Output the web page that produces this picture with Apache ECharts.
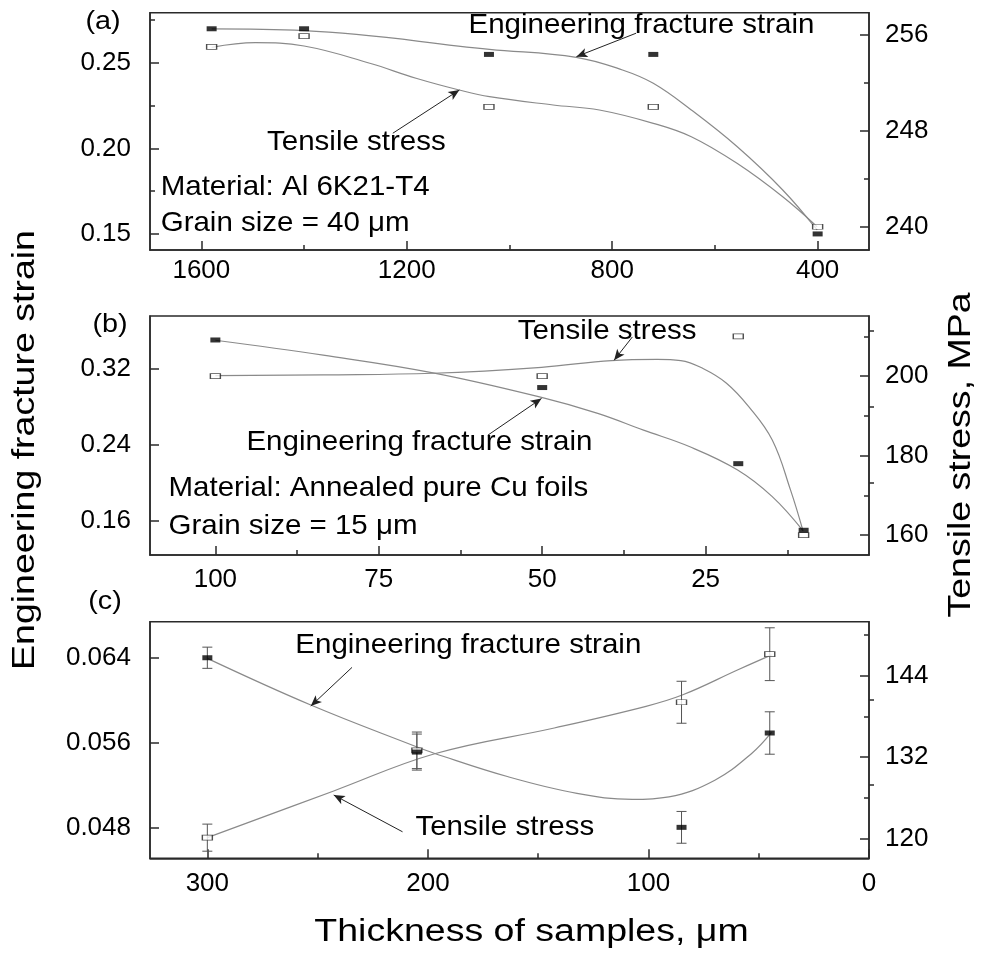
<!DOCTYPE html>
<html>
<head>
<meta charset="utf-8">
<script src="https://cdn.jsdelivr.net/npm/echarts@6/dist/echarts.min.js"></script>
<style>
  html, body { margin: 0; background: #fff; }
  #chart { width: 982px; height: 960px; }
</style>
</head>
<body>
<div id="chart"></div>
<script>
// ---- panel (a): Al 6K21-T4 ----
const thickA = [1580, 1400, 1040, 720, 400]
const strainA = [0.270, 0.270, 0.255, 0.255, 0.150]
const stressA = [255.0, 255.9, 250.0, 250.0, 240.0]
// fitted curves
const fitStrainTA = [1580, 1400, 1039, 870, 780, 720, 646, 557, 468, 401]
const fitStrainA = [0.2699, 0.2689, 0.2580, 0.2533, 0.2459, 0.2381, 0.2225, 0.2011, 0.1757, 0.1523]
const fitStressTA = [1580, 1495, 1400, 1272, 1182, 1098, 1039, 915, 825, 720, 646, 557, 468, 401]
const fitStressA = [254.97, 255.36, 255.08, 253.64, 252.39, 251.41, 250.85, 250.16, 249.74, 248.63, 247.51, 245.29, 242.50, 240.00]

// ---- panel (b): annealed pure Cu foils ----
const thickB = [100, 50, 20, 10]
const strainB = [0.350, 0.300, 0.220, 0.150]
const stressB = [200, 200, 210, 160]
const fitStrainTB = [100, 83.5, 66.7, 50.1, 41.5, 34.5, 27.4, 20.1, 14.8, 10.1]
const fitStrainB = [0.3497, 0.3340, 0.3154, 0.2896, 0.2728, 0.2552, 0.2377, 0.2133, 0.1853, 0.1495]
const fitStressTB = [100, 83.5, 66.7, 50.1, 39.4, 32.4, 28.8, 25.4, 21.8, 18.4, 14.8, 12.0, 10.1]
const fitStressB = [200.1, 200.3, 200.7, 202.2, 203.9, 204.2, 203.9, 201.9, 198.2, 192.3, 183.9, 171.3, 161.1]

// ---- panel (c) ----
const thickC = [300, 205, 85, 45]
const strainC = [0.0640, 0.0551, 0.0480, 0.0569]
const strainErrC = [0.0010, 0.0017, 0.0015, 0.0020]
const stressC = [120.1, 133.0, 140.1, 147.2]
const stressErrC = [2.0, 2.7, 3.1, 3.9]
const fitStrainTC = [300, 253.1, 205.2, 196.9, 163.6, 132.4, 107.4, 90.7, 69.9, 53.2, 44.2]
const fitStrainC = [0.06394, 0.05954, 0.05560, 0.05497, 0.05277, 0.05120, 0.05064, 0.05088, 0.05245, 0.05497, 0.05695]
const fitStressTC = [300, 242.7, 196.9, 142.7, 101.1, 84.4, 59.4, 44.2]
const fitStressC = [120.1, 127.0, 132.5, 136.3, 139.5, 141.2, 144.9, 147.1]

// ticks
const xTicksA = [1600, 1200, 800, 400], xMinorA = [1400, 1000, 600]
const lTicksA = [0.15, 0.20, 0.25], lMinorA = [0.175, 0.225, 0.275]
const rTicksA = [240, 248, 256], rMinorA = [244, 252]
const xTicksB = [100, 75, 50, 25], xMinorB = [87.5, 62.5, 37.5, 12.5]
const lTicksB = [0.16, 0.24, 0.32], lMinorB = [0.20, 0.28, 0.36]
const rTicksB = [160, 180, 200], rMinorB = [170, 190, 210]
const xTicksC = [300, 200, 100, 0], xMinorC = [250, 150, 50]
const lTicksC = [0.048, 0.056, 0.064], lMinorC = [0.052, 0.060]
const rTicksC = [120, 132, 144], rMinorC = [126, 138, 150]

// annotation arrows [from, to] in (thickness, strain) units
const arrowsA = [[[753.5, 0.2674], [869.7, 0.2537]], [[1227.2, 0.2089], [1097.6, 0.2342]]]
const arrowsB = [[[36.2, 0.3532], [39.0, 0.3287]], [[58.3, 0.2500], [50.1, 0.2885]]]
const arrowsC = [[[234.4, 0.06309], [253.1, 0.05944]], [[211.5, 0.04758], [242.7, 0.05105]]]

const FONT = "'Liberation Sans', Arial, Helvetica, sans-serif"
const AXC = '#2a2a2a'

const zip = (a, b, c) => a.map((v, i) => c ? [v, b[i], c[i]] : [v, b[i]])

function axisPair(g, pos, min, max, major, minor, fmt, margin, inverse) {
  const base = {
    type: 'value', gridIndex: g, position: pos, min, max, inverse: !!inverse,
    splitLine: { show: false }
  }
  const main = Object.assign({}, base, {
    axisLine: { show: true, onZero: false, lineStyle: { color: AXC, width: 1.5 } },
    axisTick: { show: true, inside: true, length: 9, customValues: major, lineStyle: { color: AXC, width: 1.5 } },
    axisLabel: { show: true, customValues: major, formatter: fmt, margin, color: '#000', fontSize: 26, fontFamily: FONT }
  })
  const sub = Object.assign({}, base, {
    axisLine: { show: false },
    axisTick: { show: true, inside: true, length: 5, customValues: minor, lineStyle: { color: AXC, width: 1.5 } },
    axisLabel: { show: false }
  })
  return [main, sub]
}

const grids = [
  { left: 150, top: 12.7, width: 719, height: 237.3 },
  { left: 150, top: 316, width: 719, height: 239 },
  { left: 150, top: 621.7, width: 719, height: 236.6 }
].map(g => Object.assign(g, { show: true, borderColor: AXC, borderWidth: 1.5 }))

const f0 = v => String(v)
const xAxes = [
  ...axisPair(0, 'bottom', 300, 1700, xTicksA, xMinorA, f0, 8, true),
  ...axisPair(1, 'bottom', 0, 110, xTicksB, xMinorB, f0, 12, true),
  ...axisPair(2, 'bottom', 0, 326, xTicksC, xMinorC, f0, 13, true)
]
const yAxes = [
  ...axisPair(0, 'left', 0.1406, 0.2794, lTicksA, lMinorA, v => v.toFixed(2), 19),
  ...axisPair(0, 'right', 238.06, 257.86, rTicksA, rMinorA, f0, 16),
  ...axisPair(1, 'left', 0.124, 0.3752, lTicksB, lMinorB, v => v.toFixed(2), 19),
  ...axisPair(1, 'right', 155, 215.1, rTicksB, rMinorB, f0, 16),
  ...axisPair(2, 'left', 0.04508, 0.0674, lTicksC, lMinorC, v => v.toFixed(3), 19),
  ...axisPair(2, 'right', 117.05, 152, rTicksC, rMinorC, f0, 16)
]

function curve(g, side, data, arrows) {
  const s = {
    type: 'line', xAxisIndex: 2 * g, yAxisIndex: 4 * g + (side === 'right' ? 2 : 0),
    data, smooth: 0.4, showSymbol: false, silent: true, z: 2,
    lineStyle: { color: '#8a8a8a', width: 1.2 }
  }
  if (arrows) {
    s.markLine = {
      silent: true, symbol: ['none', 'arrow'], symbolSize: [7, 11],
      label: { show: false },
      lineStyle: { color: '#222', width: 1, type: 'solid' },
      data: arrows.map(a => [{ coord: a[0] }, { coord: a[1] }])
    }
  }
  return s
}

function marks(g, side, data, filled) {
  return {
    type: 'scatter', xAxisIndex: 2 * g, yAxisIndex: 4 * g + (side === 'right' ? 2 : 0),
    data, symbol: 'rect', symbolSize: [10, 5], z: 6,
    itemStyle: filled ? { color: '#000' } : { color: '#fff', borderColor: '#222', borderWidth: 1 }
  }
}

function errBars(g, side, data) {
  return {
    type: 'custom', xAxisIndex: 2 * g, yAxisIndex: 4 * g + (side === 'right' ? 2 : 0),
    data, z: 4, silent: true,
    renderItem(params, api) {
      const x = api.value(0), y = api.value(1), e = api.value(2)
      const hi = api.coord([x, y + e]), lo = api.coord([x, y - e])
      const st = { stroke: '#555', lineWidth: 1 }
      return {
        type: 'group', children: [
          { type: 'line', shape: { x1: hi[0], y1: hi[1], x2: lo[0], y2: lo[1] }, style: st },
          { type: 'line', shape: { x1: hi[0] - 5, y1: hi[1], x2: hi[0] + 5, y2: hi[1] }, style: st },
          { type: 'line', shape: { x1: lo[0] - 5, y1: lo[1], x2: lo[0] + 5, y2: lo[1] }, style: st }
        ]
      }
    }
  }
}

const series = [
  curve(0, 'left', zip(fitStrainTA, fitStrainA), arrowsA),
  curve(0, 'right', zip(fitStressTA, fitStressA)),
  marks(0, 'right', zip(thickA, stressA), false),
  marks(0, 'left', zip(thickA, strainA), true),

  curve(1, 'left', zip(fitStrainTB, fitStrainB), arrowsB),
  curve(1, 'right', zip(fitStressTB, fitStressB)),
  marks(1, 'right', zip(thickB, stressB), false),
  marks(1, 'left', zip(thickB, strainB), true),

  curve(2, 'left', zip(fitStrainTC, fitStrainC), arrowsC),
  curve(2, 'right', zip(fitStressTC, fitStressC)),
  errBars(2, 'left', zip(thickC, strainC, strainErrC)),
  errBars(2, 'right', zip(thickC, stressC, stressErrC)),
  marks(2, 'right', zip(thickC, stressC), false),
  marks(2, 'left', zip(thickC, strainC), true)
]

// text drawn slightly stretched, like the original figure
function txt(x, y, text, size, sx, align, rot) {
  return {
    type: 'text', x, y, rotation: rot || 0, scaleX: sx, z: 10, silent: true,
    style: {
      text, font: size + 'px ' + FONT, fill: '#000',
      align: align || 'center', verticalAlign: 'middle',
      textAlign: align || 'center', textVerticalAlign: 'middle'
    }
  }
}
const AN = 28.5, ASX = 1.035
const graphic = [
  txt(103, 22, '(a)', 25, 1.15),
  txt(110, 325, '(b)', 25, 1.15),
  txt(105, 602, '(c)', 25, 1.15),
  txt(641.5, 25.5, 'Engineering fracture strain', AN, ASX),
  txt(356.4, 142.5, 'Tensile stress', AN, ASX),
  txt(160.7, 186.7, 'Material: Al 6K21-T4', AN, ASX, 'left'),
  txt(160.7, 223.3, 'Grain size = 40 \u03bcm', AN, ASX, 'left'),
  txt(607.2, 331, 'Tensile stress', AN, ASX),
  txt(419.4, 442, 'Engineering fracture strain', AN, ASX),
  txt(168.5, 488, 'Material: Annealed pure Cu foils', AN, ASX, 'left'),
  txt(168.5, 526.5, 'Grain size = 15 \u03bcm', AN, ASX, 'left'),
  txt(468.3, 645, 'Engineering fracture strain', AN, ASX),
  txt(504.8, 827, 'Tensile stress', AN, ASX),
  txt(531.5, 932.5, 'Thickness of samples, \u03bcm', 31, 1.21),
  txt(25, 450, 'Engineering fracture strain', 31, 1.21, 'center', Math.PI / 2),
  txt(961, 455, 'Tensile stress, MPa', 31, 1.21, 'center', Math.PI / 2)
]

const chart = echarts.init(document.getElementById('chart'), null, { renderer: 'canvas' })
chart.setOption({
  animation: false,
  backgroundColor: '#fff',
  grid: grids,
  xAxis: xAxes,
  yAxis: yAxes,
  series,
  graphic
})
</script>
</body>
</html>
